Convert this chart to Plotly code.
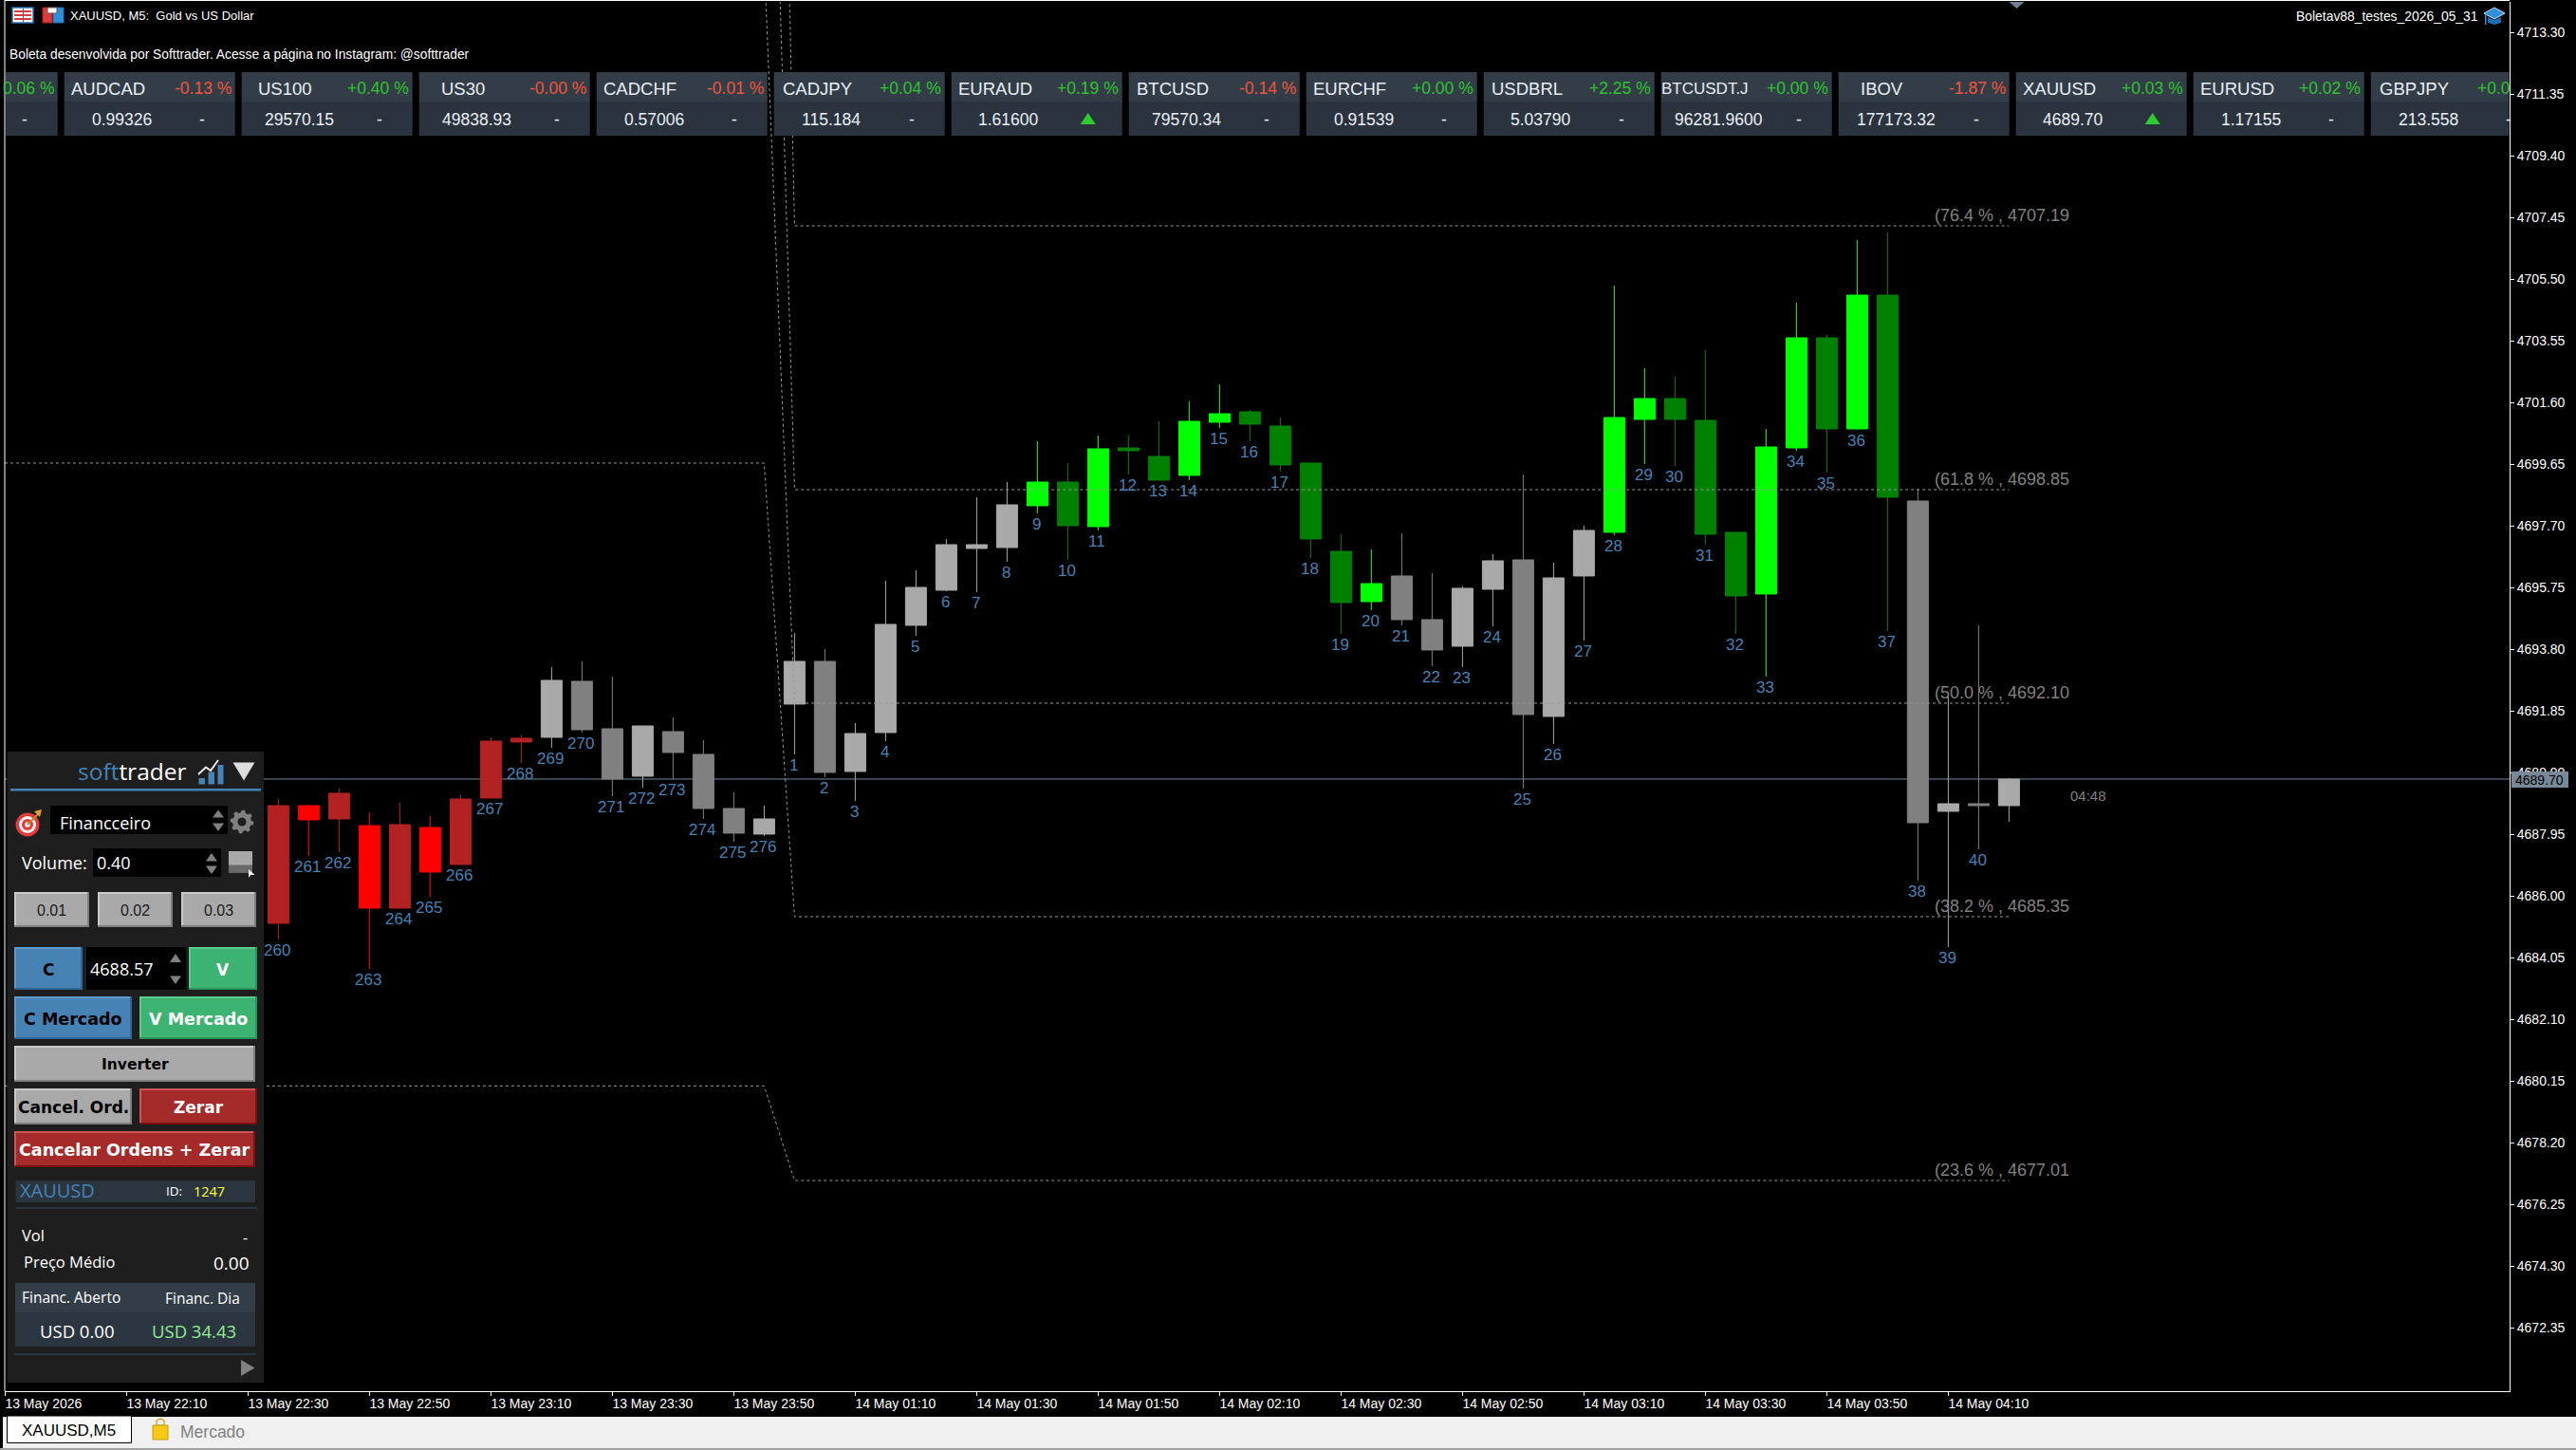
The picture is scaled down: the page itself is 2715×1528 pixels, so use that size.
import math
import plotly.graph_objects as go

# ---- price data: five-minute XAUUSD bars, oldest first ----
bar_labels = ["260", "261", "262", "263", "264", "265", "266", "267", "268", "269", "270", "271", "272", "273",
              "274", "275", "276", "1", "2", "3", "4", "5", "6", "7", "8", "9", "10", "11", "12", "13", "14",
              "15", "16", "17", "18", "19", "20", "21", "22", "23", "24", "25", "26", "27", "28", "29", "30",
              "31", "32", "33", "34", "35", "36", "37", "38", "39", "40", ""]
opens = [4688.86, 4688.41, 4689.25, 4685.62, 4688.26, 4686.76, 4689.07, 4690.90, 4690.99, 4691.02, 4692.79,
         4691.29, 4689.79, 4691.20, 4690.48, 4688.77, 4687.96, 4692.07, 4693.42, 4689.94, 4691.17, 4694.56,
         4695.67, 4696.99, 4697.02, 4698.34, 4699.09, 4697.68, 4700.17, 4699.90, 4699.30, 4700.98, 4701.31,
         4700.86, 4699.69, 4696.90, 4695.31, 4696.12, 4694.74, 4693.90, 4695.70, 4696.63, 4691.68, 4696.12,
         4697.50, 4701.07, 4701.73, 4701.04, 4697.50, 4695.55, 4700.17, 4703.65, 4700.77, 4705.00, 4698.49,
         4688.68, 4688.92, 4688.86]
highs = [4689.07, 4688.89, 4689.40, 4688.65, 4688.95, 4688.53, 4689.19, 4691.02, 4691.08, 4693.24, 4693.42,
         4692.94, 4691.38, 4691.65, 4690.93, 4689.28, 4688.86, 4694.32, 4693.81, 4691.47, 4695.97, 4696.30,
         4697.29, 4698.61, 4699.09, 4700.38, 4699.69, 4700.56, 4700.56, 4701.01, 4701.64, 4702.18, 4701.37,
         4701.13, 4699.69, 4697.44, 4696.96, 4697.47, 4696.21, 4695.79, 4696.81, 4699.33, 4696.54, 4697.71,
         4705.30, 4702.69, 4702.42, 4703.26, 4697.50, 4700.77, 4704.76, 4703.74, 4706.74, 4706.98, 4698.88,
         4692.33, 4694.56, 4689.73]
lows = [4684.63, 4687.27, 4687.39, 4683.70, 4685.62, 4685.98, 4687.00, 4689.10, 4690.21, 4690.69, 4691.17,
        4689.16, 4689.43, 4689.70, 4688.44, 4687.72, 4687.90, 4690.48, 4689.76, 4689.01, 4690.90, 4694.23,
        4695.64, 4695.61, 4696.57, 4698.10, 4696.63, 4697.56, 4699.33, 4699.15, 4699.15, 4700.80, 4700.38,
        4699.42, 4696.69, 4694.29, 4695.04, 4694.56, 4693.27, 4693.24, 4694.53, 4689.40, 4690.81, 4694.08,
        4697.41, 4699.66, 4699.60, 4697.11, 4694.29, 4692.94, 4700.08, 4699.39, 4700.74, 4694.38, 4686.49,
        4684.39, 4687.48, 4688.35]
closes = [4685.14, 4688.86, 4688.44, 4688.23, 4685.62, 4688.17, 4687.00, 4689.10, 4690.87, 4692.82, 4691.26,
          4689.70, 4691.38, 4690.54, 4688.77, 4687.99, 4688.44, 4693.42, 4689.91, 4691.14, 4694.59, 4695.76,
          4697.11, 4697.11, 4698.37, 4699.09, 4697.71, 4700.14, 4700.08, 4699.15, 4701.01, 4701.25, 4700.92,
          4699.63, 4697.29, 4695.28, 4695.88, 4694.74, 4693.78, 4695.73, 4696.60, 4691.74, 4696.06, 4697.56,
          4701.13, 4701.73, 4701.07, 4697.44, 4695.49, 4700.20, 4703.65, 4700.77, 4705.00, 4698.61, 4688.32,
          4688.92, 4688.86, 4689.70]
# trend state of each bar: s = sell, b = buy, n = neutral
trend = list("sssssssss" "nnnnnnnn" "nnnnnnnn" "bbbbbbbbbbbb" "nnnnnnn" "bbbbbbbbbb" "nnnn")

last_price = 4689.70
countdown = "04:48"

price_ticks = [4713.30, 4711.35, 4709.40, 4707.45, 4705.50, 4703.55, 4701.60, 4699.65, 4697.70, 4695.75, 4693.80,
               4691.85, 4689.90, 4687.95, 4686.00, 4684.05, 4682.10, 4680.15, 4678.20, 4676.25, 4674.30, 4672.35]
time_labels = ["13 May 2026", "13 May 22:10", "13 May 22:30", "13 May 22:50", "13 May 23:10", "13 May 23:30",
               "13 May 23:50", "14 May 01:10", "14 May 01:30", "14 May 01:50", "14 May 02:10", "14 May 02:30",
               "14 May 02:50", "14 May 03:10", "14 May 03:30", "14 May 03:50", "14 May 04:10"]

# Fibonacci levels: percentage, earlier session level, current session level
fibo_pct = ["76.4", "61.8", "50.0", "38.2", "23.6"]
fibo_prev = [4751.20, 4731.50, 4715.60, 4699.69, 4680.00]
fibo_curr = [4707.19, 4698.85, 4692.10, 4685.35, 4677.01]

# Watchlist strip
tick_names = ["", "AUDCAD", "US100", "US30", "CADCHF", "CADJPY", "EURAUD", "BTCUSD", "EURCHF", "USDBRL",
              "BTCUSDT.J", "IBOV", "XAUUSD", "EURUSD", "GBPJPY"]
tick_changes = ["0.06 %", "-0.13 %", "+0.40 %", "-0.00 %", "-0.01 %", "+0.04 %", "+0.19 %", "-0.14 %", "+0.00 %",
                "+2.25 %", "+0.00 %", "-1.87 %", "+0.03 %", "+0.02 %", "+0.0"]
tick_prices = ["", "0.99326", "29570.15", "49838.93", "0.57006", "115.184", "1.61600", "79570.34", "0.91539",
               "5.03790", "96281.9600", "177173.32", "4689.70", "1.17155", "213.558"]
tick_signals = ["-", "-", "-", "-", "-", "-", "up", "-", "-", "-", "-", "-", "up", "-", "-"]

# ---- page geometry ----
W, H = 2715, 1528
L, R, T, B = 5, 2645, 2, 1466
BAR0_PX, BAR_PX = 293.4, 32.0
shapes, notes = [], []
SANS = "Liberation Sans"
UI = "Open Sans"


def fx(px):
    return (px - L) / (R - L)


def fy(py):
    return 1 - (py - T) / (B - T)


def rect(x0, y0, x1, y1, fill, line=None, lw=1):
    shapes.append(dict(type="rect", xref="paper", yref="paper", x0=fx(x0), x1=fx(x1), y0=fy(y0), y1=fy(y1),
                       fillcolor=fill, line=dict(color=line or fill, width=lw if line else 0), layer="above"))


def poly(points, fill, line=None, lw=1, close=True):
    d = "M" + " L".join(f"{fx(x):.6f},{fy(y):.6f}" for x, y in points) + (" Z" if close else "")
    shapes.append(dict(type="path", xref="paper", yref="paper", path=d, fillcolor=fill if close else None,
                       line=dict(color=line or fill, width=lw if line else 0), layer="above"))


def disc(cx, cy, r, fill):
    shapes.append(dict(type="circle", xref="paper", yref="paper", x0=fx(cx - r), x1=fx(cx + r), y0=fy(cy + r),
                       y1=fy(cy - r), fillcolor=fill, line=dict(width=0), layer="above"))


def text(x, y, s, size, color="#FFFFFF", anchor="left", family=SANS, bold=False):
    notes.append(dict(xref="paper", yref="paper", x=fx(x), y=fy(y), text=f"<b>{s}</b>" if bold else s,
                      showarrow=False, xanchor=anchor, yanchor="middle", borderpad=0, borderwidth=0,
                      font=dict(family=family, size=size, color=color)))


def spin(cx, y_up0, y_up1, y_dn0, y_dn1, half=6):
    poly([(cx - half, y_up1), (cx + half, y_up1), (cx, y_up0)], "#808080")
    poly([(cx - half, y_dn0), (cx + half, y_dn0), (cx, y_dn1)], "#808080")


def button(x0, y0, x1, y1, fill, light, dark, label, color, size=17.5, bold=True, family="DejaVu Sans"):
    rect(x0, y0, x1, y1, dark)
    rect(x0, y0, x1 - 2, y1 - 2, light)
    rect(x0 + 2, y0 + 2, x1 - 2, y1 - 2, fill)
    text((x0 + x1) / 2, (y0 + y1) / 2 + 1, label, size, color, "center", family, bold)


# ---- chart frame, tab bar and header ----
rect(L - 0.5, 0, L + 0.5, B, "#FFFFFF")
rect(L, 0, R, 1, "#FFFFFF")
poly([(2117.5, 2), (2133.5, 2), (2125.5, 9)], "#708090")

rect(3, 1493, W, 1526, "#F0F0F0")
rect(0, 1526, W, 1528, "#A0A0A0")
rect(7.5, 1492, 138.5, 1520.5, "#FFFFFF", "#000000", 1)
text(23, 1507.5, "XAUUSD,M5", 17, "#000000")
text(190, 1508.5, "Mercado", 17.5, "#808080")
poly([(165, 1502), (165, 1497), (169, 1495), (173, 1497), (173, 1502)], "rgba(0,0,0,0)", "#C79A10", 1.2)
rect(161, 1502, 177, 1517, "#F7C815", "#C79A10", 1)

# window icons beside the symbol caption
rect(13, 8, 35, 24, "#FFFFFF", "#2F6FB0", 1.5)
for yy in (11, 15, 19):
    rect(15, yy, 33, yy + 2, "#E23A3A")
rect(24, 9, 25, 23, "#2F6FB0")
rect(45, 8, 55, 24, "#E23A3A", "#B02020", 1)
rect(56, 8, 67, 24, "#2F8FD8", "#1F6FB0", 1)
rect(50, 8, 60, 14, "#FFFFFF", "#555555", 1)

text(74, 17, "XAUUSD, M5:\u00a0\u00a0Gold vs US Dollar", 13)
text(10, 57, "Boleta desenvolvida por Softtrader. Acesse a página no Instagram: @softtrader", 13.8)
text(2612, 17, "Boletav88_testes_2026_05_31", 13.9, anchor="right")
poly([(2618, 14), (2629, 8), (2640, 14), (2629, 20)], "#2F8FD8", "#BFE3FF", 1)
poly([(2622, 18), (2622, 24), (2629, 26), (2636, 24), (2636, 18), (2629, 21)], "#1F6FB0")
rect(2619, 15, 2620.5, 26, "#2F8FD8")

# ---- watchlist cards ----
CARD0, CARD_PITCH, CARD_W = -119.3, 187.0, 180.0
for i, (nm, chg, prc, sig) in enumerate(zip(tick_names, tick_changes, tick_prices, tick_signals)):
    cx = CARD0 + i * CARD_PITCH
    x0, x1 = max(cx, L + 1), min(cx + CARD_W, R - 0.5)
    rect(x0, 76, x1, 107, "#333D48")
    rect(x0, 107, x1, 143, "#2B343E")
    if nm:
        text(cx + 46, 93, nm, 18.5 if nm != "BTCUSDT.J" else 17, "#E8EEF4", "center")
    chg_color = "#F0553A" if chg.startswith("-") else "#2DC42D"
    if i == len(tick_names) - 1:
        text(cx + 112, 93, chg, 17.5, chg_color)
    else:
        text(cx + CARD_W - 4, 93, chg, 17.5, chg_color, "right")
    if prc:
        text(cx + 60.5, 126.5, prc, 17.5, "#E8EEF4", "center")
    if sig == "up":
        tx = cx + 144
        poly([(tx - 8, 131), (tx + 8, 131), (tx, 119)], "#2ECC2E")
    elif cx + 145 < R:
        text(cx + 145, 126.5, "-", 17.5, "#E8EEF4", "center")

# ---- order panel ----
BLUE = ("#4682B4", "#5E9BCD", "#2F6697")
GREEN = ("#3CB371", "#58CC8C", "#2A955A")
GRAY = ("#A9A9A9", "#CACACA", "#7E7E7E")
RED = ("#A52A2A", "#CC5555", "#7A1010")
rect(7.5, 792, 278, 1457, "#1E1E1E")

notes.append(dict(xref="paper", yref="paper", x=fx(198.5), y=fy(812.5), xanchor="right", yanchor="middle",
                  showarrow=False, borderpad=0, font=dict(family=UI, size=24.5, color="#FFFFFF"),
                  text='<span style="color:#4682B4">soft</span>trader'))
rect(209.5, 820, 216, 826.5, "#4682B4")
rect(219.5, 813.5, 226, 826.5, "#4682B4")
rect(229.5, 806, 235.5, 826.5, "#4682B4")
poly([(209, 816), (217, 808.5), (222, 812), (230, 801)], "", "#E8E8E8", 2, close=False)
poly([(245.5, 803.5), (268.5, 803.5), (257, 822.5)], "#DDDDDD")
rect(11, 831, 275, 833.6, "#4682B4")

# target icon with arrow
disc(29, 869, 12.5, "#E63B3B")
disc(29, 869, 9, "#F5F5F5")
disc(29, 869, 6, "#E63B3B")
disc(29, 869, 2.8, "#F5F5F5")
poly([(29, 869), (41, 857)], "", "#B8862B", 2.2, close=False)
poly([(36, 855), (44, 853), (42, 861)], "#E0A030")

rect(53, 849, 240, 879, "#000000")
text(63, 867, "Financceiro", 18, "#FFFFFF", family=UI)
spin(230, 853.5, 861.5, 867.5, 876)

# gear icon
gear = []
for k in range(48):
    a = k / 48 * 2 * math.pi
    rad = 12.3 if k % 6 in (0, 1, 2) else 9.8
    gear.append((255 + rad * math.cos(a), 866 + rad * math.sin(a)))
poly(gear, "#808080")
disc(255, 866, 4.5, "#1E1E1E")

text(23, 909.5, "Volume:", 18, "#FFFFFF", family=UI)
rect(98, 894, 233, 924, "#000000")
text(102, 909.5, "0.40", 18, "#FFFFFF", family=UI)
spin(223, 899, 907.5, 912.5, 921)
rect(241, 897, 266, 919.5, "#A9A9A9")
rect(241, 911.5, 266, 919.5, "#696969")
poly([(262, 916), (268.5, 922), (264, 922), (262, 925)], "#FFFFFF")

for x0, x1, lab in ((15, 94, "0.01"), (103, 182, "0.02"), (191, 270, "0.03")):
    button(x0, 940, x1, 977, *GRAY, lab, "#1A1A1A", 16, False, SANS)

button(15, 998, 87, 1043, *BLUE, "C", "#000000", 17)
rect(91, 998, 196, 1043, "#000000")
text(95, 1021, "4688.57", 18, "#FFFFFF", family=UI)
spin(185, 1005, 1014, 1028.5, 1037)
button(199, 998, 271, 1043, *GREEN, "V", "#FFFFFF", 17)

button(15, 1050, 139, 1095, *BLUE, "C Mercado", "#000000")
button(147, 1050, 271, 1095, *GREEN, "V Mercado", "#FFFFFF")
button(15, 1102, 269, 1140, *GRAY, "Inverter", "#000000", 15.5)
button(15, 1147, 139, 1185, *GRAY, "Cancel. Ord.", "#000000", 17)
button(147, 1147, 271, 1185, *RED, "Zerar", "#FFFFFF", 17)
button(15, 1192, 269, 1230, *RED, "Cancelar Ordens + Zerar", "#FFFFFF", 17.5)

rect(16.5, 1244, 269, 1267, "#2B3540")
text(20.5, 1254.5, "XAUUSD", 20, "#4682B4", family=UI)
text(175, 1254.5, "ID:", 13.5, "#FFFFFF", family=UI)
text(204, 1255, "1247", 14.5, "#FFFF33", family=UI)
rect(16.5, 1272, 271, 1274, "#2B3540")

text(23, 1301.5, "Vol", 16.5, "#FFFFFF", family=UI)
text(261, 1304, "-", 16, "#FFFFFF", "right", UI)
text(25, 1329.5, "Preço Médio", 16.5, "#FFFFFF", family=UI)
text(263, 1331, "0.00", 19, "#FFFFFF", "right", UI)

rect(16, 1352, 269, 1383, "#333D48")
rect(16, 1383, 269, 1419, "#2B3540")
text(22.5, 1366.5, "Financ. Aberto", 15.5, "#FFFFFF", family=UI)
text(174, 1367.5, "Financ. Dia", 15.5, "#FFFFFF", family=UI)
text(41.5, 1402, "USD 0.00", 18.5, "#FFFFFF", family=UI)
text(160, 1402, "USD 34.43", 18.5, "#90EE90", family=UI)
rect(15, 1426, 269, 1428, "#2B3540")
poly([(254, 1433), (268.5, 1441.5), (254, 1450)], "#808080")

# ---- last price tag and countdown ----
rect(2647, 813, 2707, 830, "#778899")
text(2650.5, 821.5, f"{last_price:.2f}", 14, "#000000")
notes.append(dict(x=59, y=last_price, text=countdown, showarrow=False, xanchor="left", yanchor="middle", yshift=-18,
                  font=dict(family=SANS, size=15, color="#808080"), borderpad=0))

# ---- bar numbers and Fibonacci captions ----
for i, lab in enumerate(bar_labels):
    if lab:
        notes.append(dict(x=i, y=lows[i], text=lab, showarrow=False, xanchor="center", yanchor="top", yshift=-2, xshift=-1,
                          font=dict(family=SANS, size=17, color="#4682B4"), borderpad=0, borderwidth=0))
for pct, lvl in zip(fibo_pct, fibo_curr):
    notes.append(dict(x=54.55, y=lvl, text=f"({pct} % , {lvl:.2f}", showarrow=False, xanchor="left", yanchor="middle",
                      yshift=11, font=dict(family=SANS, size=18, color="#808080"), borderpad=0, borderwidth=0))

# ---- traces ----
fig = go.Figure()
X_LEFT = (L - BAR0_PX) / BAR_PX
X_RIGHT = (R - BAR0_PX) / BAR_PX
for prev, curr in zip(fibo_prev, fibo_curr):
    fig.add_trace(go.Scatter(x=[X_LEFT, 16, 17, 57], y=[prev, prev, curr, curr], mode="lines", hoverinfo="skip",
                             line=dict(color="#9A9A9A", width=1, dash="3px,3px")))

palette = {"s": ("#FF0000", "#B22222"), "b": ("#00FF00", "#008000"), "n": ("#A9A9A9", "#808080")}
for state, (up, down) in palette.items():
    idx = [i for i, t in enumerate(trend) if t == state]
    fig.add_trace(go.Candlestick(
        x=idx,
        open=[opens[i] for i in idx], high=[highs[i] for i in idx],
        low=[lows[i] for i in idx], close=[closes[i] for i in idx],
        whiskerwidth=0,
        increasing=dict(line=dict(color=up, width=1), fillcolor=up),
        decreasing=dict(line=dict(color=down, width=1), fillcolor=down),
    ))

shapes.insert(0, dict(type="line", xref="paper", yref="y", x0=0, x1=1, y0=last_price, y1=last_price,
                      line=dict(color="#778899", width=1), layer="below"))

fig.update_layout(
    width=W, height=H, autosize=False, showlegend=False,
    margin=dict(l=L, r=W - R, t=T, b=H - B, pad=0),
    paper_bgcolor="#000000", plot_bgcolor="#000000",
    font=dict(family=SANS, size=14, color="#FFFFFF"),
    boxmode="overlay", boxgap=0.3125, boxgroupgap=0,
    shapes=shapes, annotations=notes,
    xaxis=dict(range=[X_LEFT, X_RIGHT], rangeslider=dict(visible=False), showgrid=False, zeroline=False,
               showline=True, linecolor="#FFFFFF", linewidth=1, ticks="outside", ticklen=4, tickcolor="#FFFFFF",
               tickwidth=1, tickvals=[-9 + 4 * k for k in range(len(time_labels))], ticktext=time_labels,
               tickangle=0, ticklabelposition="outside right", ticklabelshift=-1,
               tickfont=dict(family=SANS, size=14, color="#FFFFFF")),
    yaxis=dict(range=[4693.80 - (B - 684.3) * 0.03, 4693.80 + (684.3 - T) * 0.03], side="right", showgrid=False,
               zeroline=False, showline=True, linecolor="#FFFFFF", linewidth=1, ticks="outside", ticklen=4,
               tickcolor="#FFFFFF", tickwidth=1, tickvals=price_ticks, tickformat=".2f",
               tickfont=dict(family=SANS, size=14, color="#FFFFFF")),
)

fig.write_html("out.html", config={"displayModeBar": False})
